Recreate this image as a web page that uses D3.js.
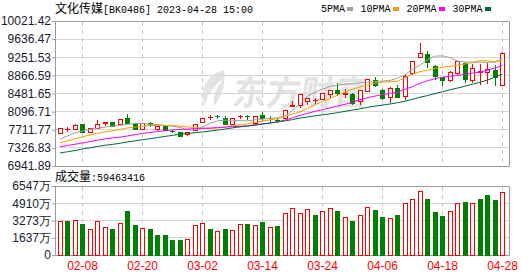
<!DOCTYPE html>
<html>
<head>
<meta charset="utf-8">
<script src="https://cdn.jsdelivr.net/npm/d3@7"></script>
<style>
  html, body { margin: 0; padding: 0; background: #fff; }
  svg { display: block; }
</style>
</head>
<body>
<svg id="chart" width="530" height="276"></svg>
<script>
// ---- data ----
const dates = ['02-03','02-06','02-07','02-08','02-09','02-10','02-13','02-14','02-15','02-16',
  '02-17','02-20','02-21','02-22','02-23','02-24','02-27','02-28','03-01','03-02',
  '03-03','03-06','03-07','03-08','03-09','03-10','03-13','03-14','03-15','03-16',
  '03-17','03-20','03-21','03-22','03-23','03-24','03-27','03-28','03-29','03-30',
  '03-31','04-03','04-04','04-06','04-07','04-10','04-11','04-12','04-13','04-14',
  '04-17','04-18','04-19','04-20','04-21','04-24','04-25','04-26','04-27','04-28'];

const opens = [7624.5, 7714, 7724.6, 7816.3, 7645.8, 7746, 7837.6, 7873.8, 7831.2, 7944.1,
  7816.3, 7724.6, 7844, 7724.6, 7788.5, 7677.7, 7652.2, 7609.5, 7688.4, 7865.3,
  7965.4, 8001.6, 7944.1, 7822.6, 7991, 7997.4, 7837.6, 8018.7, 7961.2, 7916.4,
  7944.1, 8210.5, 8221.2, 8306.4, 8327.8, 8364, 8455.6, 8540.9, 8466.3, 8470.6,
  8306.4, 8526, 8754.1, 8540.9, 8391.6, 8583.6, 8417.2, 8913.3, 9237.5, 9301.5,
  9052.7, 8818.3, 8754.1, 8913.3, 9109.8, 8754.1, 8930.9, 8918.2, 8977.9, 8662.1];
const highs = [7741.7, 7763, 7837.6, 7822.6, 7741.7, 7916.4, 7873.8, 7880.2, 7944.1, 8050.7,
  7865.3, 7858.9, 7886.6, 7780, 7805.6, 7709.7, 7656.4, 7656.4, 7837.6, 7965.4,
  8018.7, 8029.4, 7997.4, 7959.1, 8029.4, 8029.4, 7997.4, 8082.6, 8008, 7959.1,
  8135.9, 8317.1, 8466.3, 8391.6, 8381, 8487.6, 8551.5, 8711.4, 8572.9, 8487.6,
  8551.5, 8781.8, 8824.4, 8583.6, 8615.5, 8658.2, 8896.3, 9179.7, 9563.6, 9374,
  9084.7, 8829, 8967.3, 9179.7, 9158.9, 9114.6, 9114.6, 9137.6, 9084.7, 9365.4];
const lows = [7613.8, 7673.5, 7718, 7645.8, 7635, 7739.5, 7801.3, 7782.2, 7816.3, 7826.9,
  7718, 7718, 7767.2, 7688.4, 7677.7, 7639.4, 7549.9, 7581.8, 7677.7, 7858.9,
  7912.1, 7937.7, 7816.3, 7816.3, 7944.1, 7922.8, 7816.3, 7901.5, 7880.2, 7858.9,
  7933.5, 8206.3, 8178.6, 8242.5, 8263.8, 8349.7, 8391.6, 8434.2, 8381, 8242.5,
  8242.5, 8519.7, 8620, 8349.7, 8285.2, 8387.3, 8349.7, 8881.4, 9233.2, 9031.4,
  8775.4, 8650.7, 8732.8, 8881.4, 8711.4, 8705, 8669.4, 8690.7, 8650.7, 8651.5];
const closes = [7731, 7724.6, 7809.9, 7660.7, 7737.4, 7831.2, 7869.5, 7788.5, 7937.7, 7837.6,
  7724.6, 7837.6, 7816.3, 7773.6, 7703.3, 7667.1, 7560.5, 7650, 7826.9, 7961.2,
  7980.3, 7986.7, 7822.6, 7954.8, 8001.6, 7986.7, 7993.1, 7944.1, 7948.4, 7901.5,
  8129.5, 8236.1, 8462, 8385.3, 8338.4, 8477, 8547.3, 8477, 8477, 8278.8,
  8547.3, 8775.4, 8651.8, 8385.3, 8587.8, 8404.4, 8836.6, 9169, 9329.2, 9143.8,
  8839.6, 8760.8, 8918.2, 9169, 8775.4, 9022.9, 8943.7, 8988.6, 8815.9, 9329.2];

// volume in 万 (10k shares); volUp: 1 = red bar, 0 = green bar
const volumes = [3147, 3147, 3307, 2863, 2391, 3147, 2580, 2391, 2958, 4092,
  2769, 2485, 2391, 1824, 1824, 1351, 1351, 1446, 2769, 2958,
  2391, 2202, 2391, 2296, 2863, 2863, 2769, 3052, 2580, 2674,
  3903, 4456, 3903, 4347, 3714, 4158, 4442, 4092, 3591, 3147,
  3714, 4536, 4186, 3525, 3497, 3714, 4914, 5292, 6048, 5226,
  3997, 3619, 4158, 4914, 4942, 4914, 5226, 5604, 5131, 5946.3416];
const volUp = [1,0,1,0,1,1,1,0,1,0, 0,1,0,0,0,0,0,1,1,1, 0,1,0,1,1,0,1,0,1,0,
  1,1,1,1,0,1,1,0,1,0, 1,1,0,0,1,0,1,1,1,0, 0,0,1,1,0,1,0,0,0,1];

const ma5 = [7517.1, 7581.0, 7644.9, 7687.6, 7719.5, 7745.1, 7768.6, 7789.9, 7804.8, 7826.1,
  7847.4, 7843.2, 7832.5, 7819.7, 7804.8, 7783.5, 7762.2, 7709.0, 7709.0, 7773.8,
  7847.4, 7900.7, 7915.7, 7911.4, 7905.0, 7900.7, 7922.0, 7939.1, 7949.7, 7968.9,
  7996.6, 8124.5, 8263.0, 8427.2, 8508.2, 8576.4, 8629.6, 8657.4, 8678.7, 8695.7,
  8710.6, 8723.4, 8732.0, 8746.9, 8759.7, 8806.6, 8881.2, 8998.4, 9083.6, 9200.9,
  9275.5, 9279.7, 9243.5, 9168.9, 9151.8, 9147.6, 9147.6, 9143.3, 9147.6, 9237.1];
const ma10 = [7431.8, 7474.4, 7517.1, 7559.7, 7602.3, 7634.3, 7666.3, 7691.8, 7719.5, 7751.5,
  7766.4, 7787.7, 7802.7, 7804.8, 7804.8, 7802.7, 7787.7, 7772.8, 7755.8, 7745.1,
  7740.9, 7751.5, 7766.4, 7794.1, 7815.4, 7841.0, 7868.7, 7896.4, 7922.0, 7947.6,
  7996.6, 8043.5, 8092.5, 8167.1, 8241.7, 8309.9, 8380.3, 8444.2, 8508.2, 8572.1,
  8625.4, 8661.6, 8700.0, 8721.3, 8732.0, 8742.6, 8817.2, 8891.8, 8945.1, 8977.1,
  9019.7, 9036.7, 9058.1, 9083.6, 9109.2, 9136.9, 9179.5, 9173.1, 9158.2, 9173.1];
const ma20 = [7352.9, 7378.5, 7404.1, 7431.8, 7459.5, 7491.5, 7517.1, 7538.4, 7553.3, 7581.0,
  7606.6, 7634.3, 7655.6, 7672.7, 7691.8, 7708.9, 7719.5, 7725.9, 7734.5, 7740.9,
  7747.2, 7757.9, 7768.6, 7777.0, 7785.6, 7798.4, 7815.4, 7836.8, 7853.8, 7879.4,
  7917.8, 7964.6, 8017.9, 8060.6, 8103.2, 8139.4, 8177.8, 8214.0, 8252.4, 8299.3,
  8348.3, 8390.9, 8427.2, 8459.1, 8486.8, 8508.2, 8572.1, 8625.4, 8700.0, 8753.3,
  8795.9, 8827.9, 8849.2, 8864.1, 8891.8, 8913.1, 8938.7, 8977.1, 9023.9, 9079.3];
const ma30 = [7218.7, 7244.4, 7269.9, 7303.9, 7329.5, 7357.2, 7382.8, 7399.8, 7425.4, 7453.1,
  7474.4, 7500.0, 7521.2, 7546.9, 7570.3, 7591.7, 7617.2, 7634.3, 7649.2, 7666.3,
  7683.3, 7704.6, 7725.9, 7751.5, 7772.8, 7789.9, 7811.2, 7832.5, 7853.8, 7879.4,
  7900.7, 7926.3, 7960.4, 7981.7, 8007.3, 8028.6, 8049.9, 8075.5, 8103.2, 8130.9,
  8156.5, 8188.4, 8214.0, 8235.3, 8258.8, 8284.4, 8320.6, 8359.0, 8401.6, 8437.8,
  8480.4, 8518.8, 8561.4, 8597.7, 8636.0, 8678.7, 8721.3, 8768.2, 8827.9, 8896.1];

const priceTicks = [6941.89, 7326.83, 7711.77, 8096.71, 8481.65, 8866.59, 9251.53, 9636.47, 10021.42];
const volTicks = [0, 1637, 3273, 4910, 6547];
const dateTicks = ['02-08', '02-20', '03-02', '03-14', '03-24', '04-06', '04-18', '04-28'];
const maNames = ['5PMA', '10PMA', '20PMA', '30PMA'];
const maSeries = [ma5, ma10, ma20, ma30];

// ---- styles / layout ----
const maColors = ['#a0a0a0', '#f0a000', '#ff00ff', '#006a32'];
const UP = '#ff0000', DOWN = '#008000';
const GRID = '#d6d6d6', FRAME = '#9a9a9a';
const CJK = '"Noto Sans CJK SC", sans-serif';
const MONO = '"Liberation Mono", "DejaVu Sans Mono", monospace';
const SANS = '"Liberation Sans", Arial, sans-serif';

const plotLeft = 55, plotRight = 509.5;
const mainTop = 21, mainBottom = 166;
const volTop = 186, volBottom = 255;

const svg = d3.select('#chart');
const crisp = v => Math.floor(v) + 0.5;

const x = d3.scaleBand().domain(dates).range([56.25, 506.25]);
const cx = d => Math.floor(x(d) + x.bandwidth() / 2) + 0.5;
const y = d3.scaleLinear().domain([priceTicks[0], priceTicks[priceTicks.length - 1]]).range([mainBottom, mainTop]);
const yv = d3.scaleLinear().domain([0, volTicks[volTicks.length - 1]]).range([volBottom, volTop]);

/**
 * Faint brand watermark behind the price pane
 */
function drawWatermark() {
  const wm = svg.append('g').attr('fill', '#e3e3e3');
  wm.append('path')
    .attr('d', 'M224,70 C206,74 199,92 205,106 C207,96 213,86 224,78 C216,88 212,98 214,106 C222,96 226,84 224,70 Z');
  wm.append('text')
    .attr('x', 232).attr('y', 105)
    .attr('transform', 'skewX(-8) translate(14,0)')
    .style('font-family', CJK)
    .style('font-size', '34px')
    .style('font-weight', 'bold')
    .text('东方财富');
}

/**
 * Grid lines and frames of both panes
 */
function drawGrid() {
  const g = svg.append('g');
  // horizontal grid, price pane
  g.selectAll('line.hp').data(priceTicks.slice(1, -1)).join('line')
    .attr('x1', plotLeft).attr('x2', plotRight)
    .attr('y1', d => crisp(y(d))).attr('y2', d => crisp(y(d)))
    .attr('stroke', GRID);
  // horizontal grid, volume pane
  g.selectAll('line.hv').data(volTicks.slice(1, -1)).join('line')
    .attr('x1', plotLeft).attr('x2', plotRight)
    .attr('y1', d => crisp(yv(d))).attr('y2', d => crisp(yv(d)))
    .attr('stroke', GRID);
  // vertical dashed grid at the date labels
  [[mainTop, mainBottom], [volTop, volBottom]].forEach(([t, b]) => {
    g.append('g').selectAll('line').data(dateTicks).join('line')
      .attr('x1', cx).attr('x2', cx)
      .attr('y1', t + 1).attr('y2', b)
      .attr('stroke', '#c8c8c8')
      .attr('stroke-dasharray', '4,4');
  });
  // frames (left side comes from the axes)
  [[mainTop, mainBottom], [volTop, volBottom]].forEach(([t, b]) => {
    g.append('path')
      .attr('d', `M${plotLeft},${t + 0.5}H${plotRight}V${b + 0.5}H${plotLeft}`)
      .attr('fill', 'none')
      .attr('stroke', FRAME);
  });
}

/**
 * Left axes for price and volume
 */
function drawAxes() {
  const priceAxis = d3.axisLeft(y)
    .tickValues(priceTicks)
    .tickFormat(d3.format('.2f'))
    .tickSize(3).tickSizeOuter(0).tickPadding(1);
  const volAxis = d3.axisLeft(yv)
    .tickValues(volTicks)
    .tickFormat(d => d === 0 ? '0' : d + '万')
    .tickSize(3).tickSizeOuter(0).tickPadding(1);

  [[priceAxis, 0], [volAxis, 0]].forEach(([axis]) => {
    const a = svg.append('g')
      .attr('transform', `translate(${plotLeft},0)`)
      .call(axis);
    a.select('.domain').attr('stroke', FRAME);
    a.selectAll('.tick line').attr('stroke', FRAME);
    a.selectAll('.tick text')
      .attr('fill', '#1a1a30')
      .style('font-family', SANS)
      .style('font-size', '12px');
  });

  // date labels under the volume pane
  const xa = svg.append('g')
    .attr('transform', `translate(0,${volBottom})`)
    .call(d3.axisBottom(x).tickValues(dateTicks).tickSize(0).tickPadding(6));
  xa.select('.domain').remove();
  xa.selectAll('.tick text')
    .attr('fill', UP)
    .style('font-family', SANS)
    .style('font-size', '12px');
}

/**
 * Candlesticks: hollow red for up days, filled green for down days
 */
function drawCandles() {
  const data = dates.map((d, i) => ({ d, o: opens[i], h: highs[i], l: lows[i], c: closes[i] }));
  const g = svg.append('g').selectAll('g').data(data).join('g')
    .attr('stroke', k => k.c >= k.o ? UP : DOWN);

  g.append('line')
    .attr('x1', k => cx(k.d)).attr('x2', k => cx(k.d))
    .attr('y1', k => Math.round(y(k.h))).attr('y2', k => Math.round(y(k.l)));

  g.each(function (k) {
    const top = crisp(y(Math.max(k.o, k.c)));
    const bot = crisp(y(Math.min(k.o, k.c)));
    const sel = d3.select(this);
    if (bot - top < 1) {
      sel.append('line')
        .attr('x1', cx(k.d) - 2.5).attr('x2', cx(k.d) + 2.5)
        .attr('y1', top).attr('y2', top);
    } else {
      sel.append('rect')
        .attr('x', cx(k.d) - 2).attr('width', 4)
        .attr('y', top).attr('height', bot - top)
        .attr('fill', k.c >= k.o ? '#fff' : DOWN);
    }
  });
}

/**
 * Moving average lines
 */
function drawMA() {
  const line = d3.line()
    .x((v, i) => x(dates[i]) + x.bandwidth() / 2)
    .y(v => y(v));
  svg.append('g').selectAll('path').data(maSeries).join('path')
    .attr('d', line)
    .attr('fill', 'none')
    .attr('stroke', (s, i) => maColors[i])
    .attr('stroke-width', 1);
}

/**
 * Volume bars
 */
function drawVolume() {
  svg.append('g').selectAll('rect').data(volumes).join('rect')
    .attr('x', (v, i) => cx(dates[i]) - 2)
    .attr('width', 4)
    .attr('y', v => crisp(yv(v)))
    .attr('height', v => crisp(yv(0)) - crisp(yv(v)))
    .attr('fill', (v, i) => volUp[i] ? '#fff' : DOWN)
    .attr('stroke', (v, i) => volUp[i] ? UP : DOWN);
}

/**
 * Title, MA legend and the volume caption
 */
function drawHeader() {
  const title = svg.append('text').attr('x', 55).attr('y', 12.5).attr('fill', '#000');
  title.append('tspan').style('font-family', CJK).style('font-size', '12px').text('文化传媒');
  title.append('tspan').style('font-family', MONO).style('font-size', '10px').text('[BK0486] 2023-04-28 15:00');

  let lx = 321;
  maNames.forEach((name, i) => {
    const t = svg.append('text')
      .attr('x', lx).attr('y', 12)
      .attr('fill', '#000')
      .style('font-family', MONO)
      .style('font-size', '10px')
      .text(name);
    const w = t.node().getComputedTextLength();
    svg.append('rect')
      .attr('x', Math.round(lx + w + 2)).attr('y', 7)
      .attr('width', 6).attr('height', 4)
      .attr('fill', maColors[i]);
    lx = Math.round(lx + w + 2) + 6 + 7.5;
  });

  const cap = svg.append('text').attr('x', 55).attr('y', 180.5).attr('fill', '#000');
  cap.append('tspan').style('font-family', CJK).style('font-size', '12px').text('成交量');
  cap.append('tspan').style('font-family', MONO).style('font-size', '10px')
    .text(':' + Math.round(volumes[volumes.length - 1] * 10000));
}

drawWatermark();
drawGrid();
drawCandles();
drawMA();
drawVolume();
drawAxes();
drawHeader();
</script>
</body>
</html>
